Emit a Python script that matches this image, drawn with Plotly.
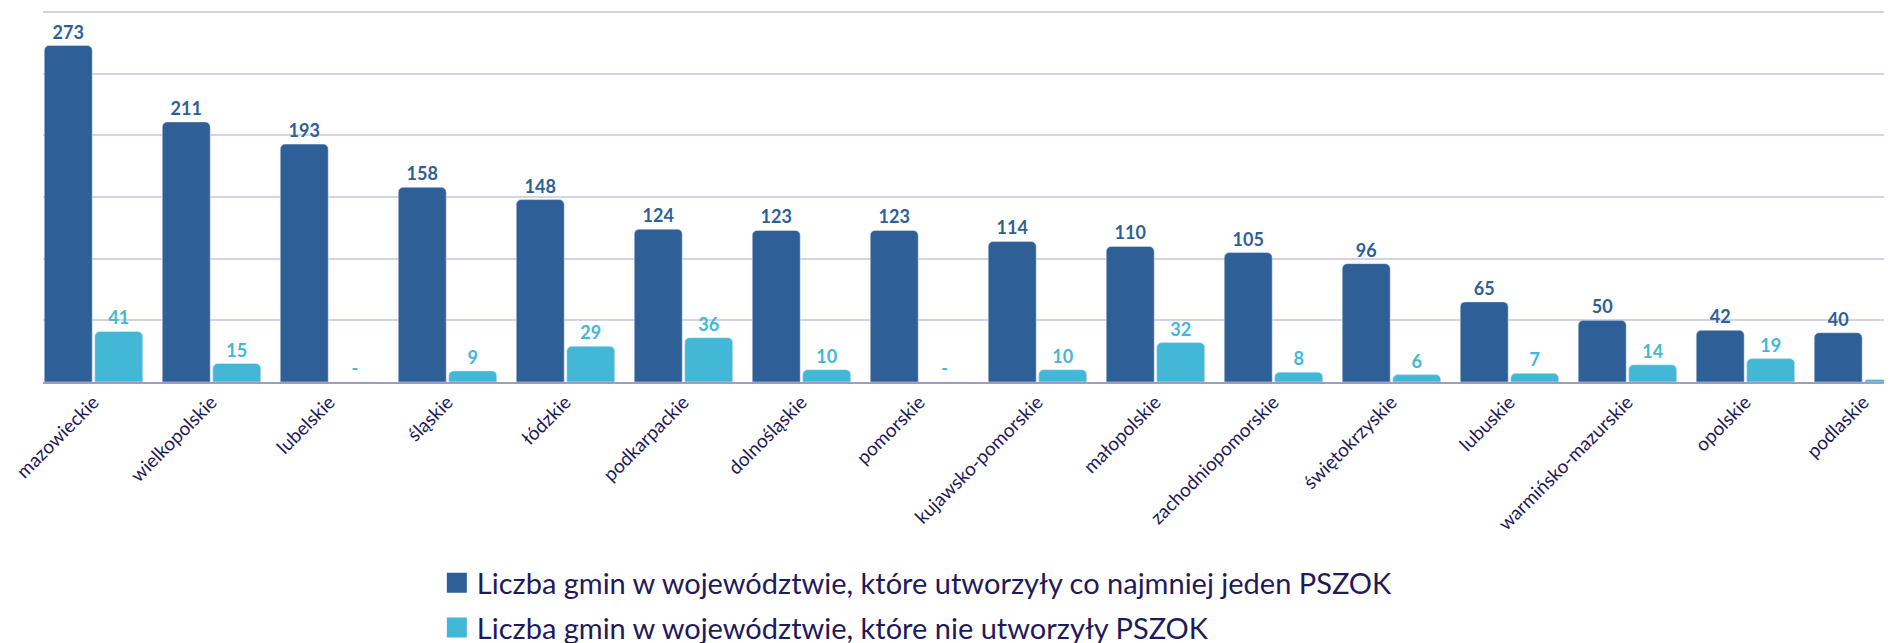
import plotly.graph_objects as go

categories = ["mazowieckie", "wielkopolskie", "lubelskie", "śląskie", "łódzkie",
              "podkarpackie", "dolnośląskie", "pomorskie", "kujawsko-pomorskie",
              "małopolskie", "zachodniopomorskie", "świętokrzyskie", "lubuskie",
              "warmińsko-mazurskie", "opolskie", "podlaskie"]
with_pszok = [273, 211, 193, 158, 148, 124, 123, 123, 114, 110, 105, 96, 65, 50, 42, 40]
without_pszok = [41, 15, 0, 9, 29, 36, 10, 0, 10, 32, 8, 6, 7, 14, 19, 2]

name1 = "Liczba gmin w województwie, które utworzyły co najmniej jeden PSZOK"
name2 = "Liczba gmin w województwie, które nie utworzyły PSZOK"

dark = "#2e5f96"
light = "#42b8d6"
navy = "#1f1a5a"

def lab(vals):
    return [str(v) if v != 0 else "-" for v in vals]

fig = go.Figure()
fig.add_trace(go.Bar(x=categories, y=with_pszok, name=name1, marker_color=dark,
                     text=lab(with_pszok), textposition="outside", cliponaxis=False,
                     showlegend=False,
                     textfont=dict(family="Lato", size=18, color=dark, weight="bold")))
fig.add_trace(go.Bar(x=categories, y=without_pszok, name=name2, marker_color=light,
                     text=lab(without_pszok), textposition="outside", cliponaxis=False,
                     showlegend=False,
                     textfont=dict(family="Lato", size=18, color=light, weight="bold")))
# legend entries with large square swatches
for nm, col, grp in [(name1, dark, "a"), (name2, light, "b")]:
    fig.add_trace(go.Scatter(x=[None], y=[None], mode="markers", name=nm,
                             legendgroup=grp,
                             marker=dict(symbol="square", size=16, color=col,
                                         line=dict(color=col, width=4))))

fig.update_layout(
    width=1884, height=635,
    margin=dict(l=35, r=0, t=3, b=261, autoexpand=False),
    plot_bgcolor="white", paper_bgcolor="white",
    barmode="group", bargap=0.144, bargroupgap=0.05, barcornerradius=5,
    font=dict(family="Lato", color=navy),
    xaxis=dict(range=[-0.428, 15.242], tickangle=-45, showline=True,
               linecolor="#a09cc0", linewidth=1.5, ticks="",
               tickfont=dict(family="Lato", size=19, color=navy)),
    yaxis=dict(range=[0, 301], tickvals=[0, 50, 100, 150, 200, 250, 300],
               showticklabels=False, showgrid=True,
               gridcolor="#d4d2e6", gridwidth=1.5, zeroline=False),
    legend=dict(x=0.213, y=-0.473, xanchor="left", yanchor="top",
                font=dict(family="Lato", size=29, color=navy),
                itemsizing="trace", itemwidth=30,
                traceorder="grouped", tracegroupgap=4),
    showlegend=True,
)

fig.write_html("out.html")
